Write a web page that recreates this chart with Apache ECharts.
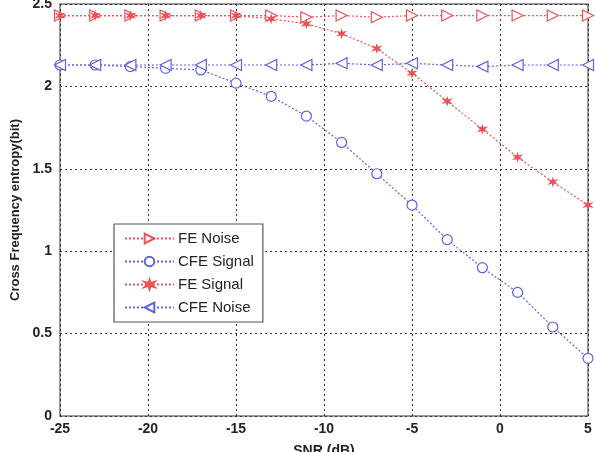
<!DOCTYPE html>
<html>
<head>
<meta charset="utf-8">
<script src="https://cdn.jsdelivr.net/npm/echarts@6/dist/echarts.min.js"></script>
<style>
  html, body { margin: 0; padding: 0; background: #fff; }
  #chart { width: 595px; height: 452px; }
</style>
</head>
<body>
<div id="chart"></div>
<script>
const snr = [-25, -23, -21, -19, -17, -15, -13, -11, -9, -7, -5, -3, -1, 1, 3, 5]
const feNoise = [2.43, 2.43, 2.43, 2.43, 2.43, 2.43, 2.43, 2.42, 2.43, 2.42, 2.43, 2.43, 2.43, 2.43, 2.43, 2.43]
const cfeSignal = [2.13, 2.13, 2.12, 2.11, 2.1, 2.02, 1.94, 1.82, 1.66, 1.47, 1.28, 1.07, 0.9, 0.75, 0.54, 0.35]
const feSignal = [2.43, 2.43, 2.43, 2.43, 2.43, 2.43, 2.41, 2.38, 2.32, 2.23, 2.08, 1.91, 1.74, 1.57, 1.42, 1.28]
const cfeNoise = [2.13, 2.13, 2.13, 2.13, 2.13, 2.13, 2.13, 2.13, 2.14, 2.13, 2.14, 2.13, 2.12, 2.13, 2.13, 2.13]

const red = '#ec5258'
const blue = '#6262dc'
const star = 'path://M0,-10 L2,-3 L9,-5 L4,0 L9,5 L2,3 L0,10 L-2,3 L-9,5 L-4,0 L-9,-5 L-2,-3 Z'
const font = 'Liberation Sans'

const pairs = arr => snr.map((x, i) => [x, arr[i]])

function line(name, data, color, symbol, size, rotate, filled) {
  return {
    name,
    type: 'line',
    data: pairs(data),
    symbol,
    symbolSize: size,
    symbolRotate: rotate,
    showAllSymbol: true,
    lineStyle: { color, width: 1.2, type: [2, 2] },
    itemStyle: {
      color: filled ? color : '#fff',
      borderColor: color,
      borderWidth: 1.2,
    },
    emphasis: { disabled: true },
  }
}

const chart = echarts.init(document.getElementById('chart'))
chart.setOption({
  animation: false,
  grid: {
    left: 60,
    right: 7,
    top: 4,
    bottom: 36,
    outerBoundsMode: 'none',
    show: true,
    borderColor: '#777',
    borderWidth: 1.5,
  },
  legend: {
    orient: 'vertical',
    left: 114,
    top: 224,
    itemGap: 8,
    itemWidth: 49,
    itemHeight: 12,
    backgroundColor: '#fff',
    borderColor: '#555',
    borderWidth: 1.2,
    padding: [7, 9, 7, 10],
    textStyle: { fontFamily: font, fontSize: 15, color: '#222', padding: [0, 0, 0, -1] },
    data: ['FE Noise', 'CFE Signal', 'FE Signal', 'CFE Noise'],
  },
  xAxis: {
    type: 'value',
    min: -25,
    max: 5,
    interval: 5,
    name: 'SNR (dB)',
    nameLocation: 'middle',
    nameGap: 28,
    nameTextStyle: { fontFamily: font, fontWeight: 'bold', fontSize: 14, color: '#222' },
    axisLine: { show: false },
    axisTick: { show: false },
    axisLabel: { fontFamily: font, fontWeight: 'bold', fontSize: 14, color: '#222', margin: 6 },
    splitLine: { lineStyle: { color: '#333', type: [2, 3], width: 1 } },
  },
  yAxis: {
    type: 'value',
    min: 0,
    max: 2.5,
    interval: 0.5,
    name: 'Cross Frequency entropy(bit)',
    nameLocation: 'middle',
    nameGap: 37,
    nameTextStyle: { fontFamily: font, fontWeight: 'bold', fontSize: 13, color: '#222' },
    axisLine: { show: false },
    axisTick: { show: false },
    axisLabel: { fontFamily: font, fontWeight: 'bold', fontSize: 14, color: '#222', margin: 8 },
    splitLine: { lineStyle: { color: '#333', type: [2, 3], width: 1 } },
  },
  series: [
    line('FE Noise', feNoise, red, 'triangle', 11, -90, false),
    line('CFE Signal', cfeSignal, blue, 'circle', 10, 0, false),
    line('FE Signal', feSignal, red, star, 7, 0, true),
    line('CFE Noise', cfeNoise, blue, 'triangle', 11, 90, false),
  ],
})
</script>
</body>
</html>
